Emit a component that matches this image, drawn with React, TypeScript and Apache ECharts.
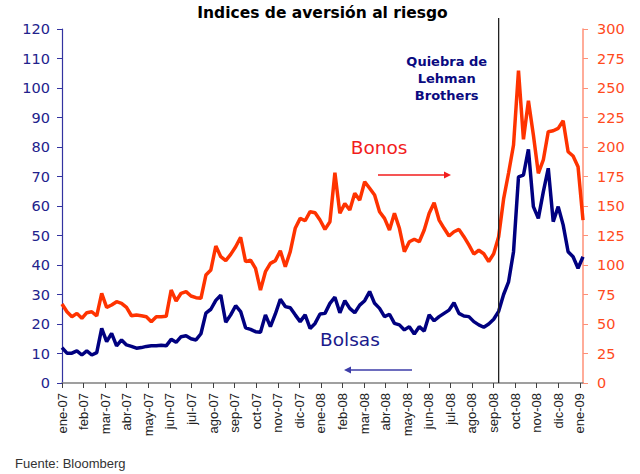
import React, { useEffect, useRef } from "react";
import * as echarts from "echarts";

const monthLabels = [
  "ene-07", "feb-07", "mar-07", "abr-07", "may-07", "jun-07", "jul-07", "ago-07",
  "sep-07", "oct-07", "nov-07", "dic-07", "ene-08", "feb-08", "mar-08", "abr-08",
  "may-08", "jun-08", "jul-08", "ago-08", "sep-08", "oct-08", "nov-08", "dic-08", "ene-09",
];

// weekly observations, starting first week of January 2007
const bolsas = [
  12.0, 10.1, 10.1, 10.9, 9.5, 10.9, 9.5, 10.3, 18.5, 14.0,
  16.8, 12.6, 14.6, 12.9, 12.4, 11.8, 12.0, 12.4, 12.6, 12.6,
  12.8, 12.6, 14.8, 13.8, 15.7, 16.0, 15.0, 14.6, 16.7, 23.7,
  25.0, 28.0, 29.8, 20.6, 23.1, 26.2, 24.2, 18.7, 18.2, 17.4,
  17.2, 23.1, 19.1, 23.4, 28.4, 25.9, 25.5, 23.1, 20.8, 23.1,
  18.5, 20.2, 23.4, 23.6, 27.0, 29.1, 23.8, 27.9, 25.3, 23.8,
  26.4, 27.9, 31.0, 27.0, 25.3, 22.5, 23.3, 20.2, 19.7, 18.0,
  19.1, 16.6, 19.1, 17.6, 23.1, 21.1, 22.5, 23.6, 24.7, 27.2,
  23.6, 22.7, 22.5, 20.8, 19.7, 18.9, 20.0, 21.6, 24.3, 30.0,
  34.3, 44.5, 69.9, 70.5, 79.2, 59.8, 55.8, 64.8, 72.8, 54.7,
  59.8, 53.6, 44.5, 42.8, 38.9, 42.8,
];

const bonos = [
  67.0, 60.4, 56.2, 59.0, 54.8, 59.6, 60.4, 56.8, 76.0, 64.1,
  66.1, 68.9, 67.5, 64.1, 57.0, 57.6, 57.0, 56.2, 52.0, 56.2,
  56.2, 56.5, 78.8, 69.5, 76.0, 77.4, 73.7, 72.3, 71.8, 91.5,
  95.8, 116.1, 107.0, 103.7, 109.0, 115.5, 123.5, 102.8, 104.2, 97.2,
  78.8, 94.3, 101.4, 103.7, 112.1, 98.6, 111.3, 131.1, 139.5, 137.5,
  145.2, 144.3, 138.1, 130.2, 136.7, 178.2, 143.8, 152.0, 146.6, 160.8,
  155.0, 170.6, 165.0, 159.3, 145.2, 139.5, 129.7, 143.8, 131.1, 111.3,
  119.7, 121.8, 119.7, 129.7, 143.8, 152.8, 138.1, 131.1, 124.6, 128.2,
  130.2, 124.0, 117.0, 109.3, 112.5, 109.5, 103.0, 109.5, 124.0, 156.0,
  178.0, 201.7, 264.7, 206.5, 239.2, 210.2, 177.7, 189.0, 213.0, 213.8,
  215.8, 222.3, 196.0, 192.4, 183.3, 138.1,
];

const leftTicks = { min: 0, max: 120, interval: 10 };
const rightTicks = { min: 0, max: 300, interval: 25 };
const lehmanWeek = 88;
const weekInMonths = 7 / 30.4375;

const NAVY = "#000080";
const ORANGE = "#FF3300";

export default function App() {
  const ref = useRef<HTMLDivElement>(null);
  useEffect(() => {
    const chart = echarts.init(ref.current!, null, { renderer: "svg" });
    const xMax = (bolsas.length - 1) * weekInMonths;
    const bolsasData = bolsas.map((v, i) => [i * weekInMonths, v]);
    const bonosData = bonos.map((v, i) => [i * weekInMonths, v]);

    chart.setOption({
      animation: false,
      backgroundColor: "#ffffff",
      grid: { left: 62, right: 57, top: 29, bottom: 91, containLabel: false },
      xAxis: {
        type: "value",
        min: 0,
        max: xMax,
        interval: 1,
        splitLine: { show: false },
        axisLine: { show: true, onZero: false, lineStyle: { color: "#808080", width: 1.5 } },
        axisTick: { show: true, length: 5, lineStyle: { color: "#404040", width: 1 } },
        axisLabel: {
          rotate: 90,
          margin: 10,
          color: "#222222",
          fontFamily: "Liberation Sans",
          fontSize: 13,
          showMaxLabel: false,
          formatter: (v: number) => {
            const k = Math.round(v);
            return Math.abs(v - k) < 1e-6 && monthLabels[k] ? monthLabels[k] : "";
          },
        },
      },
      yAxis: [
        {
          type: "value",
          position: "left",
          ...leftTicks,
          splitLine: { show: false },
          axisLine: { show: true, lineStyle: { color: "#3333a0", width: 1.2 } },
          axisTick: { show: true, length: 5, lineStyle: { color: "#3333a0" } },
          axisLabel: { color: "#22228c", fontFamily: "DejaVu Sans", fontSize: 14.5, margin: 12 },
        },
        {
          type: "value",
          position: "right",
          ...rightTicks,
          splitLine: { show: false },
          axisLine: { show: true, lineStyle: { color: "#FF9077", width: 1.5 } },
          axisTick: { show: true, length: 5, lineStyle: { color: "#FF9077" } },
          axisLabel: { color: "#FF4A1C", fontFamily: "DejaVu Sans", fontSize: 14.5, margin: 14 },
        },
      ],
      series: [
        {
          name: "Bolsas",
          type: "line",
          yAxisIndex: 0,
          data: bolsasData,
          showSymbol: false,
          symbol: "none",
          lineStyle: { color: NAVY, width: 3.5 },
          z: 3,
        },
        {
          name: "Bonos",
          type: "line",
          yAxisIndex: 1,
          data: bonosData,
          showSymbol: false,
          symbol: "none",
          lineStyle: { color: ORANGE, width: 3.5 },
          z: 2,
        },
      ],
    });

    const lx = chart.convertToPixel({ xAxisIndex: 0 }, lehmanWeek * weekInMonths) as number;
    const y0 = chart.convertToPixel({ yAxisIndex: 0 }, 0) as number;

    const txt = (x: number, y: number, text: string, font: string, fill: string, align = "left", lineHeight?: number) => ({
      type: "text",
      x,
      y,
      silent: true,
      style: {
        text,
        font,
        fill,
        align,
        verticalAlign: "middle",
        textAlign: align,
        textVerticalAlign: "middle",
        lineHeight,
      },
    });

    chart.setOption({
      graphic: [
        txt(322.5, 12.5, "Indices de aversión al riesgo", 'bold 15.5px "DejaVu Sans"', "#000000", "center"),
        {
          type: "line",
          silent: true,
          shape: { x1: lx, y1: 18, x2: lx, y2: y0 },
          style: { stroke: "#222222", lineWidth: 1.3 },
          z: 10,
        },
        txt(446.7, 78.5, "Quiebra de\nLehman\nBrothers", 'bold 13px "DejaVu Sans"', "#0a0a80", "center", 17),
        txt(350.7, 147, "Bonos", '18.5px "DejaVu Sans"', "#F21D1D"),
        {
          type: "line",
          silent: true,
          shape: { x1: 378, y1: 175, x2: 445, y2: 175 },
          style: { stroke: "#F21D1D", lineWidth: 1.5 },
        },
        {
          type: "polygon",
          silent: true,
          shape: { points: [[444, 171.5], [451, 175], [444, 178.5]] },
          style: { fill: "#F21D1D" },
        },
        txt(320, 339.5, "Bolsas", '18.5px "DejaVu Sans"', "#1a1a8c"),
        {
          type: "line",
          silent: true,
          shape: { x1: 350, y1: 370, x2: 412, y2: 370 },
          style: { stroke: "#3c3ca8", lineWidth: 1.5 },
        },
        {
          type: "polygon",
          silent: true,
          shape: { points: [[351, 366.5], [344, 370], [351, 373.5]] },
          style: { fill: "#3c3ca8" },
        },
        txt(15, 463, "Fuente: Bloomberg", '13px "Liberation Sans"', "#333333"),
      ],
    });

    return () => chart.dispose();
  }, []);
  return (
    <div
      ref={ref}
      style={{ position: "fixed", left: 0, top: 0, width: 640, height: 474, background: "#fff" }}
    />
  );
}
